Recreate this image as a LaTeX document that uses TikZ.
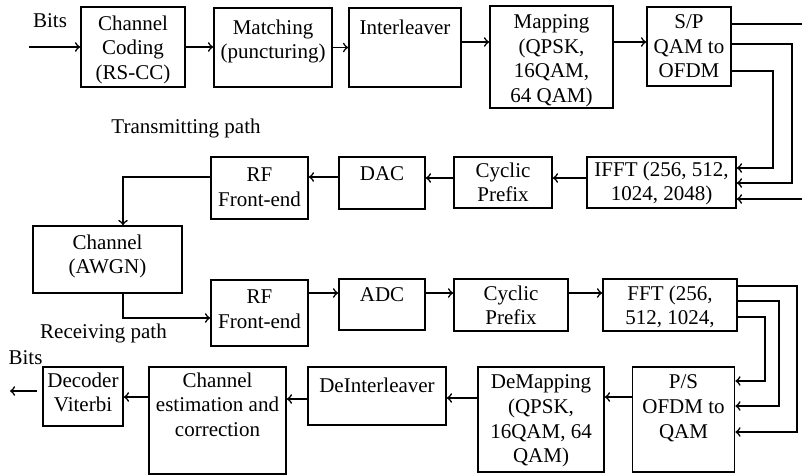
\documentclass[tikz,border=0pt]{standalone}
\usepackage{fontspec}
\setmainfont{Liberation Serif}
\usepackage{tikz}
\tikzset{blk/.style 2 args={draw, line width=.9pt, minimum width=#1*.5pt, minimum height=#2*.5pt, inner sep=0pt}}
\tikzset{txt/.style={font=\fontsize{10.5}{12.4}\selectfont, align=center, inner sep=0pt}}
\tikzset{wire/.style={line width=.8pt, ->}}

\begin{document}
\begin{tikzpicture}[x=.5pt, y=-.5pt]
  \useasboundingbox (0,0) rectangle (802,475);
  % transmitting path
  \node[blk={104}{80}] (cc) at (133,47) {};
  \node[txt, below=4.5pt] (cct) at (cc.north) {Channel\\Coding\\(RS-CC)};
  \node[blk={118}{79}] (match) at (273,47.5) {};
  \node[txt, below=6pt] (matcht) at (match.north) {Matching\\(puncturing)};
  \node[blk={112}{79}] (intl) at (405,47.5) {};
  \node[txt, below=6pt] (intlt) at (intl.north) {Interleaver};
  \node[blk={123}{102}] (map) at (551.5,57) {};
  \node[txt, below=4.5pt] (mapt) at (map.north) {Mapping\\(QPSK,\\16QAM,\\64 QAM)};
  \node[blk={84}{79}] (sp) at (689,46.5) {};
  \node[txt, below=4pt] (spt) at (sp.north) {S/P\\QAM to\\OFDM};
  \node[blk={149}{51}] (ifft) at (661.5,182.5) {};
  \node[txt, below=2.5pt] (ifftt) at (ifft.north) {IFFT (256, 512,\\1024, 2048)};
  \node[blk={98}{51}] (cptx) at (503,182.5) {};
  \node[txt, below=3pt] (cptxt) at (cptx.north) {Cyclic\\Prefix};
  \node[blk={86}{52}] (dac) at (382,183) {};
  \node[txt, below=5pt] (dact) at (dac.north) {DAC};
  \node[blk={97}{62}] (rftx) at (259.5,188) {};
  \node[txt, below=5.5pt] (rftxt) at (rftx.north) {RF\\Front-end};
  \node[blk={149}{67}] (chan) at (107.5,259.5) {};
  \node[txt, below=4.5pt] (chant) at (chan.north) {Channel\\(AWGN)};
  % receiving path
  \node[blk={97}{66}] (rfrx) at (259.5,313) {};
  \node[txt, below=5pt] (rfrxt) at (rfrx.north) {RF\\Front-end};
  \node[blk={86}{51}] (adc) at (382,304.5) {};
  \node[txt, below=4.5pt] (adct) at (adc.north) {ADC};
  \node[blk={114}{52}] (cprx) at (511,305) {};
  \node[txt, below=3.5pt] (cprxt) at (cprx.north) {Cyclic\\Prefix};
  \node[blk={134}{52}] (fft) at (670,305) {};
  \node[txt, below=3.5pt] (fftt) at (fft.north) {FFT (256,\\512, 1024,};
  \node[blk={102}{105}] (ps) at (683.5,419.5) {};
  \node[txt, below=4pt] (pst) at (ps.north) {P/S\\OFDM to\\QAM};
  \node[blk={126}{105}] (demap) at (541,419.5) {};
  \node[txt, below=4pt] (demapt) at (demap.north) {DeMapping\\(QPSK,\\16QAM, 64\\QAM)};
  \node[blk={138}{58}] (deint) at (377,396) {};
  \node[txt, below=5.5pt] (deintt) at (deint.north) {DeInterleaver};
  \node[blk={137}{107}] (chest) at (217.5,420.5) {};
  \node[txt, below=3pt] (chestt) at (chest.north) {Channel\\estimation and\\correction};
  \node[blk={80}{59}] (dec) at (83,396.5) {};
  \node[txt, below=3pt] (dect) at (dec.north) {Decoder\\Viterbi};
  % labels
  \node[txt] (bitsin) at (50,20.5) {Bits};
  \node[txt] (txpath) at (186,128) {Transmitting path};
  \node[txt] (rxpath) at (103.5,333) {Receiving path};
  \node[txt] (bitsout) at (25.5,357.5) {Bits};
  \coordinate (bin) at (29,47);
  \coordinate (boutA) at (37,391);
  \coordinate (boutB) at (10,391);
  % connectors
  \draw[wire] (bin) -- (cc.west);
  \draw[wire] (cc.east) -- (match.west |- cc.east);
  \draw[wire] (match.east) -- (intl.west);
  \draw[wire] (intl.east |- 0,42) -- (map.west |- 0,42);
  \draw[wire] (map.east |- 0,42) -- (sp.west |- 0,42);
  \draw[wire] (sp.east |- 0,24) -| (812,199) -- (ifft.east |- 0,199);
  \draw[wire] (sp.east |- 0,44) -| (792,183) -- (ifft.east |- 0,183);
  \draw[wire] (sp.east |- 0,71) -| (773,168) -- (ifft.east |- 0,168);
  \draw[wire] (ifft.west |- 0,178) -- (cptx.east |- 0,178);
  \draw[wire] (cptx.west |- 0,178) -- (dac.east |- 0,178);
  \draw[wire] (dac.west |- 0,177) -- (rftx.east |- 0,177);
  \draw[wire] (rftx.west |- 0,177) -| (chan.north -| 123,0);
  \draw[wire] (chan.south -| 123,0) |- (rfrx.west |- 0,318);
  \draw[wire] (rfrx.east |- 0,293) -- (adc.west |- 0,293);
  \draw[wire] (adc.east |- 0,293) -- (cprx.west |- 0,293);
  \draw[wire] (cprx.east |- 0,293) -- (fft.west |- 0,293);
  \draw[wire] (fft.east |- 0,286) -| (797,432) -- (ps.east |- 0,432);
  \draw[wire] (fft.east |- 0,301) -| (779,406) -- (ps.east |- 0,406);
  \draw[wire] (fft.east |- 0,317) -| (765,381) -- (ps.east |- 0,381);
  \draw[wire] (ps.west |- 0,397) -- (demap.east |- 0,397);
  \draw[wire] (demap.west |- 0,398) -- (deint.east |- 0,398);
  \draw[wire] (deint.west |- 0,399) -- (chest.east |- 0,399);
  \draw[wire] (chest.west |- 0,397) -- (dec.east |- 0,397);
  \draw[wire] (boutA) -- (boutB);
\end{tikzpicture}
\end{document}
